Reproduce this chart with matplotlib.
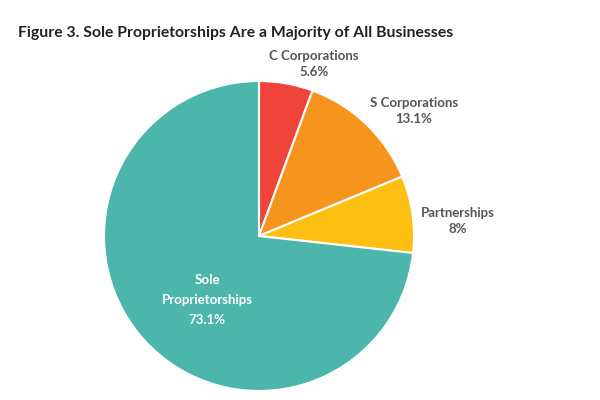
import matplotlib.pyplot as plt

categories = ["C Corporations", "S Corporations", "Partnerships", "Sole\nProprietorships"]
shares = [5.6, 13.1, 8.0, 73.1]
share_labels = ["5.6%", "13.1%", "8%", "73.1%"]
colors = ["#F0443A", "#F7941E", "#FDBF12", "#4DB6AC"]

plt.rcParams["font.family"] = ["Lato", "DejaVu Sans"]

fig = plt.figure(figsize=(6, 4), dpi=100)
fig.text(18 / 600, 1 - 33 / 400, "Figure 3. Sole Proprietorships Are a Majority of All Businesses",
         fontsize=11.3, fontweight="bold", color="#222222", va="center", ha="left")

# pie centre (259, 236) px, radius 155 px
ax = fig.add_axes([104 / 600, 9 / 400, 310 / 600, 310 / 400])
ax.pie(shares, colors=colors, startangle=90, counterclock=False, radius=1.0,
       wedgeprops=dict(edgecolor="white", linewidth=1.5))
ax.set_xlim(-1, 1)
ax.set_ylim(-1, 1)
ax.set_aspect("equal")
ax.axis("off")

# label anchor positions (px, relative to pie centre)
label_pos = [(314, 64), (414, 111), (458, 221), (207, 300)]
grey = "#555555"
for i, (name, pct) in enumerate(zip(categories, share_labels)):
    px, py = label_pos[i]
    x = (px - 259) / 155
    y = (236 - py) / 155
    if i < 3:
        ax.text(x, y, name + "\n" + pct, ha="center", va="center", fontsize=9.5,
                fontweight="bold", color=grey, linespacing=1.45)
    else:
        ax.text(x, y, name + "\n" + pct, ha="center", va="center", fontsize=9.5,
                fontweight="bold", color="white", linespacing=1.75)

fig.savefig("out.png", dpi=100)
